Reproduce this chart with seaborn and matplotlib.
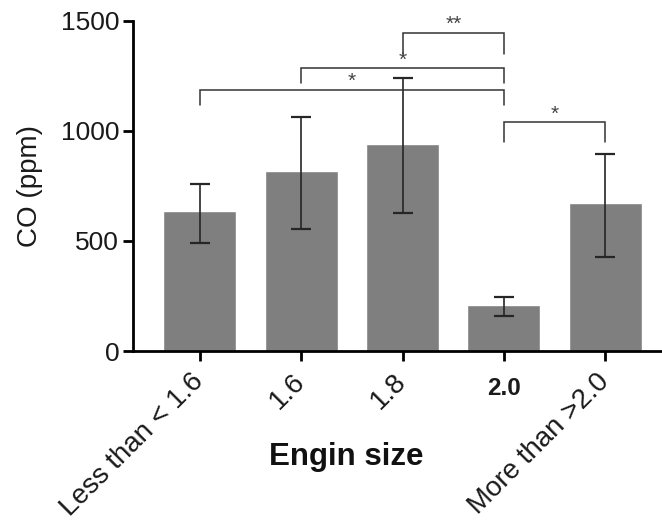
import matplotlib
matplotlib.use("Agg")
import matplotlib.pyplot as plt
import seaborn as sns
import pandas as pd
import numpy as np

categories = ["Less than < 1.6", "1.6", "1.8", "2.0", "More than >2.0"]
co_mean = [636, 817, 939, 211, 674]
co_upper = [759, 1061, 1238, 245, 894]
co_lower = [491, 555, 629, 158, 427]

# significance brackets: (left index, right index, bracket height, leg bottom, label)
sig_left = [2, 1, 0, 3]
sig_right = [3, 3, 3, 4]
sig_height = [1445, 1283, 1185, 1039]
sig_leg = [1350, 1215, 1117, 950]
sig_label = ["**", "*", "*", "*"]

sns.set_theme(style="ticks")
plt.rcParams['font.family'] = ['Liberation Sans', 'DejaVu Sans']

df = pd.DataFrame({"size": categories, "co": co_mean})

fig = plt.figure(figsize=(6.62, 5.24), dpi=100)
ax = fig.add_axes([0.201, 0.330, 0.799, 0.6305])

sns.barplot(data=df, x="size", y="co", color="#7f7f7f", saturation=1,
            width=0.72, ax=ax, errorbar=None)

x = np.arange(len(categories))
mean = np.array(co_mean)
yerr = np.vstack([mean - np.array(co_lower), np.array(co_upper) - mean])
ax.errorbar(x, mean, yerr=yerr, fmt="none", ecolor="#262626",
            elinewidth=1.2, capsize=7, capthick=1.6)

for l, r, h, leg, lab in zip(sig_left, sig_right, sig_height, sig_leg, sig_label):
    ax.plot([l, l, r, r], [leg, h, h, leg], color="#333333", lw=1.1,
            solid_joinstyle="miter")
    ax.text((l + r) / 2, h - 5, lab, ha="center", va="bottom",
            fontsize=15, color="#444444")

ax.set_xlim(-0.66, 4.56)
ax.set_ylim(0, 1500)
ax.set_yticks([0, 500, 1000, 1500])
ax.set_yticklabels(["0", "500", "1000", "1500"], fontsize=19, color="#1a1a1a")

sns.despine(ax=ax)
for s in ["left", "bottom"]:
    ax.spines[s].set_linewidth(2.0)
    ax.spines[s].set_color("black")
ax.tick_params(axis="both", width=2.0, length=7, color="black")
ax.tick_params(axis="y", pad=3)

ax.set_xticks(x)
ax.set_xticklabels(categories, fontsize=20, color="#1a1a1a",
                   rotation=45, ha="right", va="center",
                   rotation_mode="anchor")
labs = ax.get_xticklabels()
labs[3].set_rotation(0)
labs[3].set_ha("center")
labs[3].set_va("top")
labs[3].set_fontsize(17.5)
labs[3].set_fontweight("bold")
ax.tick_params(axis="x", pad=12)

ax.set_xlabel("Engin size", fontsize=22.5, fontweight="bold",
              color="#111111", va="center", ha="center")
ax.xaxis.set_label_coords(0.403, -0.32)
ax.set_ylabel("CO (ppm)", fontsize=20, color="#1a1a1a",
              va="center", ha="center")
ax.yaxis.set_label_coords(-0.195, 0.5)

fig.savefig("out.png", dpi=100)
